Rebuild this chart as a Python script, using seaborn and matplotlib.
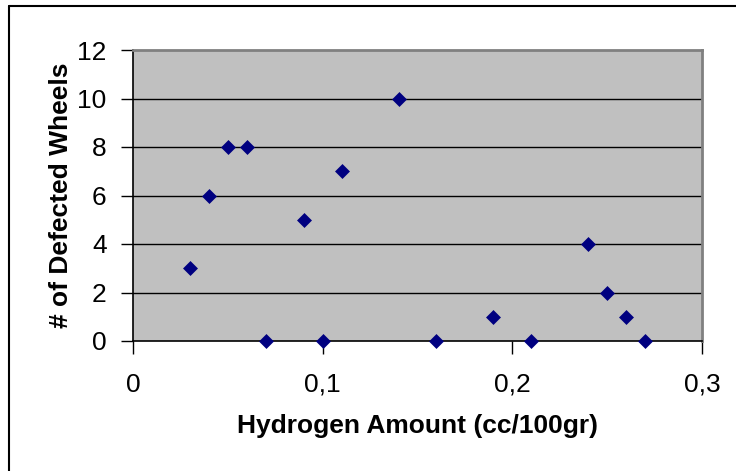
import matplotlib
matplotlib.use("Agg")
import matplotlib.pyplot as plt
import seaborn as sns
import pandas as pd
from matplotlib.lines import Line2D

hydrogen = [0.03, 0.04, 0.05, 0.06, 0.07, 0.09, 0.10, 0.11, 0.14, 0.16, 0.19, 0.21, 0.24, 0.25, 0.26, 0.27]
defects = [3, 6, 8, 8, 0, 5, 0, 7, 10, 0, 1, 0, 4, 2, 1, 0]
x_ticks = [0, 0.1, 0.2, 0.3]
x_tick_labels = ["0", "0,1", "0,2", "0,3"]
y_ticks = [0, 2, 4, 6, 8, 10, 12]

df = pd.DataFrame({"Hydrogen": hydrogen, "Defects": defects})

sns.set_theme(style="white")
plt.rcParams["font.family"] = ["Liberation Sans", "DejaVu Sans"]

fig = plt.figure(figsize=(7.36, 4.71), dpi=100)
ax = fig.add_axes([133/736, 1 - 341/471, (702 - 133)/736, (341 - 50)/471])
ax.set_facecolor("#C0C0C0")

for y in y_ticks[1:-1]:
    ax.axhline(y, color="black", linewidth=1, zorder=1)

sns.scatterplot(data=df, x="Hydrogen", y="Defects", marker="D", s=58,
                color="#000080", linewidth=0, ax=ax, zorder=3, clip_on=False)

ax.set_xlim(0, 0.3)
ax.set_ylim(0, 12)
ax.set_xticks(x_ticks)
ax.set_xticklabels(x_tick_labels)
ax.set_yticks(y_ticks)
ax.tick_params(axis="both", which="both", direction="out", length=9, width=1,
               color="black", labelsize=19, labelcolor="black", bottom=True, left=True)
ax.tick_params(axis="x", pad=14)
ax.tick_params(axis="y", pad=10)

for side in ["left", "bottom"]:
    ax.spines[side].set_color("black")
    ax.spines[side].set_linewidth(1.2)
for side in ["top", "right"]:
    ax.spines[side].set_visible(True)
    ax.spines[side].set_color("#808080")
    ax.spines[side].set_linewidth(2)

ax.set_xlabel("Hydrogen Amount (cc/100gr)", fontsize=19, fontweight="bold", color="black", labelpad=12)
ax.set_ylabel("# of Defected Wheels", fontsize=19, fontweight="bold", color="black", labelpad=3)

# outer chart border (top and left visible)
fig.add_artist(Line2D([9/736, 1], [1 - 6/471, 1 - 6/471], transform=fig.transFigure, color="black", linewidth=1.5))
fig.add_artist(Line2D([9/736, 9/736], [0, 1 - 6/471], transform=fig.transFigure, color="black", linewidth=1.5))

fig.savefig("out.png", dpi=100)
